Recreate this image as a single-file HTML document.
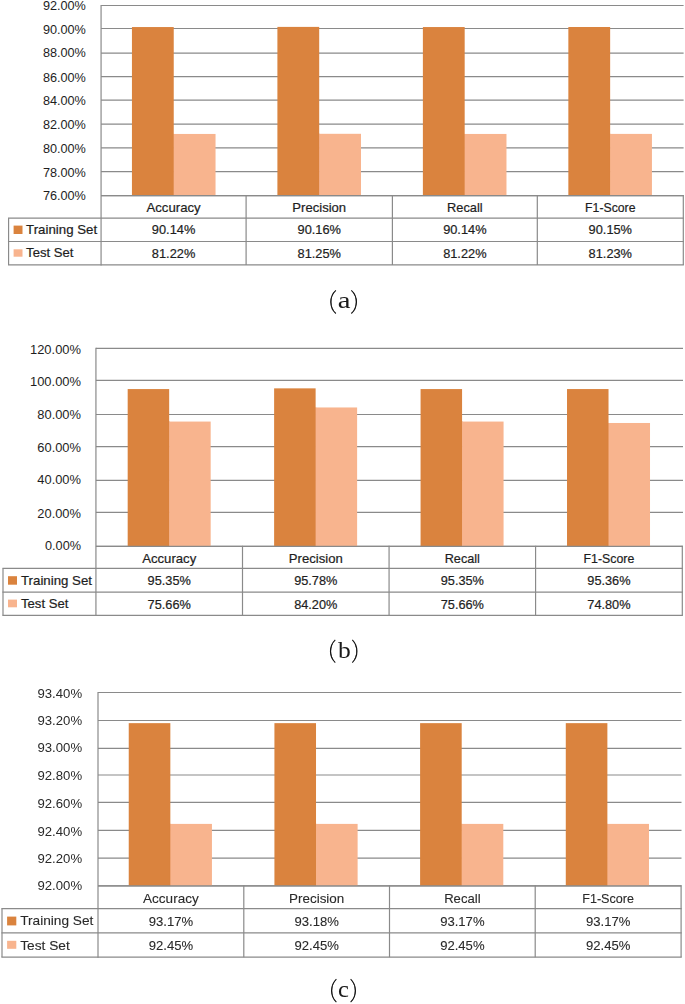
<!DOCTYPE html>
<html><head><meta charset="utf-8"><style>
html,body{margin:0;padding:0;background:#fff;width:685px;height:1004px;overflow:hidden}
svg{display:block;font-family:"Liberation Sans", sans-serif}
.gs{filter:grayscale(1)}
</style></head><body>
<svg width="685" height="1004" viewBox="0 0 685 1004">
<line x1="101.07" y1="5.50" x2="683.60" y2="5.50" stroke="#8a8a8a" stroke-width="1.2"/>
<line x1="101.07" y1="28.50" x2="683.60" y2="28.50" stroke="#8a8a8a" stroke-width="1.2"/>
<line x1="101.07" y1="53.10" x2="683.60" y2="53.10" stroke="#8a8a8a" stroke-width="1.2"/>
<line x1="101.07" y1="76.65" x2="683.60" y2="76.65" stroke="#8a8a8a" stroke-width="1.2"/>
<line x1="101.07" y1="100.10" x2="683.60" y2="100.10" stroke="#8a8a8a" stroke-width="1.2"/>
<line x1="101.07" y1="124.10" x2="683.60" y2="124.10" stroke="#8a8a8a" stroke-width="1.2"/>
<line x1="101.07" y1="147.90" x2="683.60" y2="147.90" stroke="#8a8a8a" stroke-width="1.2"/>
<line x1="101.07" y1="171.60" x2="683.60" y2="171.60" stroke="#8a8a8a" stroke-width="1.2"/>
<line x1="101.07" y1="195.70" x2="683.60" y2="195.70" stroke="#8a8a8a" stroke-width="1.2"/>
<rect x="131.94" y="27.05" width="41.80" height="168.65" fill="#DA833E"/>
<rect x="173.14" y="133.95" width="1.2" height="61.75" fill="#DA833E"/>
<rect x="173.74" y="133.95" width="41.80" height="61.75" fill="#F8B48E"/>
<rect x="277.40" y="26.90" width="41.80" height="168.80" fill="#DA833E"/>
<rect x="318.60" y="133.80" width="1.2" height="61.90" fill="#DA833E"/>
<rect x="319.20" y="133.80" width="41.80" height="61.90" fill="#F8B48E"/>
<rect x="422.88" y="27.05" width="41.80" height="168.65" fill="#DA833E"/>
<rect x="464.07" y="133.95" width="1.2" height="61.75" fill="#DA833E"/>
<rect x="464.68" y="133.95" width="41.80" height="61.75" fill="#F8B48E"/>
<rect x="568.35" y="27.00" width="41.80" height="168.70" fill="#DA833E"/>
<rect x="609.54" y="133.90" width="1.2" height="61.80" fill="#DA833E"/>
<rect x="610.14" y="133.90" width="41.80" height="61.80" fill="#F8B48E"/>
<line x1="101.07" y1="195.70" x2="683.30" y2="195.70" stroke="#8a8a8a" stroke-width="1.2"/>
<line x1="101.07" y1="4.90" x2="101.07" y2="265.55" stroke="#8a8a8a" stroke-width="1.2"/>
<line x1="7.97" y1="218.20" x2="683.90" y2="218.20" stroke="#8a8a8a" stroke-width="1.2"/>
<line x1="7.97" y1="241.50" x2="683.90" y2="241.50" stroke="#8a8a8a" stroke-width="1.2"/>
<line x1="7.97" y1="264.95" x2="683.90" y2="264.95" stroke="#8a8a8a" stroke-width="1.2"/>
<line x1="8.57" y1="218.20" x2="8.57" y2="264.95" stroke="#8a8a8a" stroke-width="1.2"/>
<line x1="246.10" y1="195.10" x2="246.10" y2="264.95" stroke="#8a8a8a" stroke-width="1.2"/>
<line x1="392.40" y1="195.10" x2="392.40" y2="264.95" stroke="#8a8a8a" stroke-width="1.2"/>
<line x1="537.30" y1="195.10" x2="537.30" y2="264.95" stroke="#8a8a8a" stroke-width="1.2"/>
<line x1="683.30" y1="195.10" x2="683.30" y2="264.95" stroke="#8a8a8a" stroke-width="1.2"/>
<text x="85.90" y="10.10" font-size="12.2" fill="#1e1e1e" stroke="#1e1e1e" stroke-width="0" text-anchor="end" textLength="43.00" lengthAdjust="spacingAndGlyphs">92.00%</text>
<text x="85.90" y="33.70" font-size="12.2" fill="#1e1e1e" stroke="#1e1e1e" stroke-width="0" text-anchor="end" textLength="43.00" lengthAdjust="spacingAndGlyphs">90.00%</text>
<text x="85.90" y="56.60" font-size="12.2" fill="#1e1e1e" stroke="#1e1e1e" stroke-width="0" text-anchor="end" textLength="43.00" lengthAdjust="spacingAndGlyphs">88.00%</text>
<text x="85.90" y="82.00" font-size="12.2" fill="#1e1e1e" stroke="#1e1e1e" stroke-width="0" text-anchor="end" textLength="43.00" lengthAdjust="spacingAndGlyphs">86.00%</text>
<text x="85.90" y="105.00" font-size="12.2" fill="#1e1e1e" stroke="#1e1e1e" stroke-width="0" text-anchor="end" textLength="43.00" lengthAdjust="spacingAndGlyphs">84.00%</text>
<text x="85.90" y="128.80" font-size="12.2" fill="#1e1e1e" stroke="#1e1e1e" stroke-width="0" text-anchor="end" textLength="43.00" lengthAdjust="spacingAndGlyphs">82.00%</text>
<text x="85.90" y="152.90" font-size="12.2" fill="#1e1e1e" stroke="#1e1e1e" stroke-width="0" text-anchor="end" textLength="43.00" lengthAdjust="spacingAndGlyphs">80.00%</text>
<text x="85.90" y="176.80" font-size="12.2" fill="#1e1e1e" stroke="#1e1e1e" stroke-width="0" text-anchor="end" textLength="43.00" lengthAdjust="spacingAndGlyphs">78.00%</text>
<text x="85.90" y="200.30" font-size="12.2" fill="#1e1e1e" stroke="#1e1e1e" stroke-width="0" text-anchor="end" textLength="43.00" lengthAdjust="spacingAndGlyphs">76.00%</text>
<text x="173.58" y="211.90" font-size="12.2" fill="#1e1e1e" stroke="#1e1e1e" stroke-width="0.2" text-anchor="middle" textLength="54.20" lengthAdjust="spacingAndGlyphs">Accuracy</text>
<text x="173.58" y="234.30" font-size="12.2" fill="#1e1e1e" stroke="#1e1e1e" stroke-width="0.2" text-anchor="middle" textLength="43.40" lengthAdjust="spacingAndGlyphs">90.14%</text>
<text x="173.58" y="257.50" font-size="12.2" fill="#1e1e1e" stroke="#1e1e1e" stroke-width="0.2" text-anchor="middle" textLength="43.40" lengthAdjust="spacingAndGlyphs">81.22%</text>
<text x="319.25" y="211.90" font-size="12.2" fill="#1e1e1e" stroke="#1e1e1e" stroke-width="0.2" text-anchor="middle" textLength="53.80" lengthAdjust="spacingAndGlyphs">Precision</text>
<text x="319.25" y="234.30" font-size="12.2" fill="#1e1e1e" stroke="#1e1e1e" stroke-width="0.2" text-anchor="middle" textLength="43.40" lengthAdjust="spacingAndGlyphs">90.16%</text>
<text x="319.25" y="257.50" font-size="12.2" fill="#1e1e1e" stroke="#1e1e1e" stroke-width="0.2" text-anchor="middle" textLength="43.40" lengthAdjust="spacingAndGlyphs">81.25%</text>
<text x="464.85" y="211.90" font-size="12.2" fill="#1e1e1e" stroke="#1e1e1e" stroke-width="0.2" text-anchor="middle" textLength="35.60" lengthAdjust="spacingAndGlyphs">Recall</text>
<text x="464.85" y="234.30" font-size="12.2" fill="#1e1e1e" stroke="#1e1e1e" stroke-width="0.2" text-anchor="middle" textLength="43.40" lengthAdjust="spacingAndGlyphs">90.14%</text>
<text x="464.85" y="257.50" font-size="12.2" fill="#1e1e1e" stroke="#1e1e1e" stroke-width="0.2" text-anchor="middle" textLength="43.40" lengthAdjust="spacingAndGlyphs">81.22%</text>
<text x="610.30" y="211.90" font-size="12.2" fill="#1e1e1e" stroke="#1e1e1e" stroke-width="0.2" text-anchor="middle" textLength="50.40" lengthAdjust="spacingAndGlyphs">F1-Score</text>
<text x="610.30" y="234.30" font-size="12.2" fill="#1e1e1e" stroke="#1e1e1e" stroke-width="0.2" text-anchor="middle" textLength="43.40" lengthAdjust="spacingAndGlyphs">90.15%</text>
<text x="610.30" y="257.50" font-size="12.2" fill="#1e1e1e" stroke="#1e1e1e" stroke-width="0.2" text-anchor="middle" textLength="43.40" lengthAdjust="spacingAndGlyphs">81.23%</text>
<rect x="13.60" y="225.60" width="8.90" height="8.40" fill="#DA833E"/>
<rect x="13.60" y="249.30" width="8.90" height="7.40" fill="#F8B48E"/>
<text x="26.10" y="234.00" font-size="12.2" fill="#1e1e1e" stroke="#1e1e1e" stroke-width="0.2" text-anchor="start" textLength="71.00" lengthAdjust="spacingAndGlyphs">Training Set</text>
<text x="26.10" y="257.30" font-size="12.2" fill="#1e1e1e" stroke="#1e1e1e" stroke-width="0.2" text-anchor="start" textLength="47.30" lengthAdjust="spacingAndGlyphs">Test Set</text>
<path d="M335.88,290.30 A15.64,15.64 0 0 0 335.88,313.50" fill="none" stroke="#111" stroke-width="1.05"/><path d="M335.88,290.30 A15.64,15.64 0 0 0 335.88,313.50 A17.34,17.34 0 0 1 335.88,290.30 Z" fill="#111"/>
<path d="M351.32,290.30 A15.64,15.64 0 0 1 351.32,313.50" fill="none" stroke="#111" stroke-width="1.05"/><path d="M351.32,290.30 A15.64,15.64 0 0 1 351.32,313.50 A17.34,17.34 0 0 0 351.32,290.30 Z" fill="#111"/>
<text transform="translate(337.69,307.80) scale(1.28,1)" font-size="22.5" class="gs" fill="#1a1a1a" font-family='"Liberation Serif", serif'>a</text>
<line x1="95.93" y1="348.40" x2="683.00" y2="348.40" stroke="#8a8a8a" stroke-width="1.2"/>
<line x1="95.93" y1="380.40" x2="683.00" y2="380.40" stroke="#8a8a8a" stroke-width="1.2"/>
<line x1="95.93" y1="414.50" x2="683.00" y2="414.50" stroke="#8a8a8a" stroke-width="1.2"/>
<line x1="95.93" y1="446.60" x2="683.00" y2="446.60" stroke="#8a8a8a" stroke-width="1.2"/>
<line x1="95.93" y1="480.30" x2="683.00" y2="480.30" stroke="#8a8a8a" stroke-width="1.2"/>
<line x1="95.93" y1="512.30" x2="683.00" y2="512.30" stroke="#8a8a8a" stroke-width="1.2"/>
<line x1="95.93" y1="546.40" x2="683.00" y2="546.40" stroke="#8a8a8a" stroke-width="1.2"/>
<rect x="127.68" y="389.07" width="41.50" height="157.33" fill="#DA833E"/>
<rect x="168.58" y="421.56" width="1.2" height="124.84" fill="#DA833E"/>
<rect x="169.18" y="421.56" width="41.50" height="124.84" fill="#F8B48E"/>
<rect x="274.12" y="388.36" width="41.50" height="158.04" fill="#DA833E"/>
<rect x="315.02" y="407.47" width="1.2" height="138.93" fill="#DA833E"/>
<rect x="315.62" y="407.47" width="41.50" height="138.93" fill="#F8B48E"/>
<rect x="420.57" y="389.07" width="41.50" height="157.33" fill="#DA833E"/>
<rect x="461.47" y="421.56" width="1.2" height="124.84" fill="#DA833E"/>
<rect x="462.07" y="421.56" width="41.50" height="124.84" fill="#F8B48E"/>
<rect x="567.02" y="389.06" width="41.50" height="157.34" fill="#DA833E"/>
<rect x="607.92" y="422.98" width="1.2" height="123.42" fill="#DA833E"/>
<rect x="608.52" y="422.98" width="41.50" height="123.42" fill="#F8B48E"/>
<line x1="95.93" y1="546.40" x2="682.30" y2="546.40" stroke="#8a8a8a" stroke-width="1.2"/>
<line x1="95.93" y1="347.80" x2="95.93" y2="616.00" stroke="#8a8a8a" stroke-width="1.2"/>
<line x1="2.40" y1="568.45" x2="682.90" y2="568.45" stroke="#8a8a8a" stroke-width="1.2"/>
<line x1="2.40" y1="592.20" x2="682.90" y2="592.20" stroke="#8a8a8a" stroke-width="1.2"/>
<line x1="2.40" y1="615.40" x2="682.90" y2="615.40" stroke="#8a8a8a" stroke-width="1.2"/>
<line x1="3.00" y1="568.45" x2="3.00" y2="615.40" stroke="#8a8a8a" stroke-width="1.2"/>
<line x1="242.50" y1="545.80" x2="242.50" y2="615.40" stroke="#8a8a8a" stroke-width="1.2"/>
<line x1="389.07" y1="545.80" x2="389.07" y2="615.40" stroke="#8a8a8a" stroke-width="1.2"/>
<line x1="535.57" y1="545.80" x2="535.57" y2="615.40" stroke="#8a8a8a" stroke-width="1.2"/>
<line x1="682.30" y1="545.80" x2="682.30" y2="615.40" stroke="#8a8a8a" stroke-width="1.2"/>
<text x="81.00" y="353.60" font-size="12.2" fill="#1e1e1e" stroke="#1e1e1e" stroke-width="0" text-anchor="end" textLength="51.00" lengthAdjust="spacingAndGlyphs">120.00%</text>
<text x="81.00" y="385.80" font-size="12.2" fill="#1e1e1e" stroke="#1e1e1e" stroke-width="0" text-anchor="end" textLength="51.00" lengthAdjust="spacingAndGlyphs">100.00%</text>
<text x="81.00" y="419.20" font-size="12.2" fill="#1e1e1e" stroke="#1e1e1e" stroke-width="0" text-anchor="end" textLength="43.70" lengthAdjust="spacingAndGlyphs">80.00%</text>
<text x="81.00" y="451.60" font-size="12.2" fill="#1e1e1e" stroke="#1e1e1e" stroke-width="0" text-anchor="end" textLength="43.70" lengthAdjust="spacingAndGlyphs">60.00%</text>
<text x="81.00" y="484.20" font-size="12.2" fill="#1e1e1e" stroke="#1e1e1e" stroke-width="0" text-anchor="end" textLength="43.70" lengthAdjust="spacingAndGlyphs">40.00%</text>
<text x="81.00" y="518.20" font-size="12.2" fill="#1e1e1e" stroke="#1e1e1e" stroke-width="0" text-anchor="end" textLength="43.70" lengthAdjust="spacingAndGlyphs">20.00%</text>
<text x="81.00" y="550.30" font-size="12.2" fill="#1e1e1e" stroke="#1e1e1e" stroke-width="0" text-anchor="end" textLength="36.00" lengthAdjust="spacingAndGlyphs">0.00%</text>
<text x="169.22" y="562.80" font-size="12.2" fill="#1e1e1e" stroke="#1e1e1e" stroke-width="0.2" text-anchor="middle" textLength="54.10" lengthAdjust="spacingAndGlyphs">Accuracy</text>
<text x="169.22" y="585.00" font-size="12.2" fill="#1e1e1e" stroke="#1e1e1e" stroke-width="0.2" text-anchor="middle" textLength="43.20" lengthAdjust="spacingAndGlyphs">95.35%</text>
<text x="169.22" y="608.60" font-size="12.2" fill="#1e1e1e" stroke="#1e1e1e" stroke-width="0.2" text-anchor="middle" textLength="43.20" lengthAdjust="spacingAndGlyphs">75.66%</text>
<text x="315.78" y="562.80" font-size="12.2" fill="#1e1e1e" stroke="#1e1e1e" stroke-width="0.2" text-anchor="middle" textLength="53.90" lengthAdjust="spacingAndGlyphs">Precision</text>
<text x="315.78" y="585.00" font-size="12.2" fill="#1e1e1e" stroke="#1e1e1e" stroke-width="0.2" text-anchor="middle" textLength="43.20" lengthAdjust="spacingAndGlyphs">95.78%</text>
<text x="315.78" y="608.60" font-size="12.2" fill="#1e1e1e" stroke="#1e1e1e" stroke-width="0.2" text-anchor="middle" textLength="43.20" lengthAdjust="spacingAndGlyphs">84.20%</text>
<text x="462.32" y="562.80" font-size="12.2" fill="#1e1e1e" stroke="#1e1e1e" stroke-width="0.2" text-anchor="middle" textLength="35.20" lengthAdjust="spacingAndGlyphs">Recall</text>
<text x="462.32" y="585.00" font-size="12.2" fill="#1e1e1e" stroke="#1e1e1e" stroke-width="0.2" text-anchor="middle" textLength="43.20" lengthAdjust="spacingAndGlyphs">95.35%</text>
<text x="462.32" y="608.60" font-size="12.2" fill="#1e1e1e" stroke="#1e1e1e" stroke-width="0.2" text-anchor="middle" textLength="43.20" lengthAdjust="spacingAndGlyphs">75.66%</text>
<text x="608.93" y="562.80" font-size="12.2" fill="#1e1e1e" stroke="#1e1e1e" stroke-width="0.2" text-anchor="middle" textLength="50.80" lengthAdjust="spacingAndGlyphs">F1-Score</text>
<text x="608.93" y="585.00" font-size="12.2" fill="#1e1e1e" stroke="#1e1e1e" stroke-width="0.2" text-anchor="middle" textLength="43.20" lengthAdjust="spacingAndGlyphs">95.36%</text>
<text x="608.93" y="608.60" font-size="12.2" fill="#1e1e1e" stroke="#1e1e1e" stroke-width="0.2" text-anchor="middle" textLength="43.20" lengthAdjust="spacingAndGlyphs">74.80%</text>
<rect x="8.00" y="576.20" width="9.00" height="8.50" fill="#DA833E"/>
<rect x="8.00" y="599.60" width="9.00" height="7.70" fill="#F8B48E"/>
<text x="21.00" y="584.70" font-size="12.2" fill="#1e1e1e" stroke="#1e1e1e" stroke-width="0.2" text-anchor="start" textLength="71.00" lengthAdjust="spacingAndGlyphs">Training Set</text>
<text x="21.00" y="608.00" font-size="12.2" fill="#1e1e1e" stroke="#1e1e1e" stroke-width="0.2" text-anchor="start" textLength="47.40" lengthAdjust="spacingAndGlyphs">Test Set</text>
<path d="M335.28,639.90 A15.71,15.71 0 0 0 335.28,662.60" fill="none" stroke="#111" stroke-width="1.05"/><path d="M335.28,639.90 A15.71,15.71 0 0 0 335.28,662.60 A17.60,17.60 0 0 1 335.28,639.90 Z" fill="#111"/>
<path d="M352.32,639.90 A16.18,16.18 0 0 1 352.32,662.60" fill="none" stroke="#111" stroke-width="1.05"/><path d="M352.32,639.90 A16.18,16.18 0 0 1 352.32,662.60 A18.28,18.28 0 0 0 352.32,639.90 Z" fill="#111"/>
<text transform="translate(337.90,657.80) scale(1.07,1)" font-size="23.9" class="gs" fill="#1a1a1a" font-family='"Liberation Serif", serif'>b</text>
<line x1="98.00" y1="692.50" x2="681.50" y2="692.50" stroke="#8a8a8a" stroke-width="1.2"/>
<line x1="98.00" y1="720.50" x2="681.50" y2="720.50" stroke="#8a8a8a" stroke-width="1.2"/>
<line x1="98.00" y1="748.30" x2="681.50" y2="748.30" stroke="#8a8a8a" stroke-width="1.2"/>
<line x1="98.00" y1="775.00" x2="681.50" y2="775.00" stroke="#8a8a8a" stroke-width="1.2"/>
<line x1="98.00" y1="802.40" x2="681.50" y2="802.40" stroke="#8a8a8a" stroke-width="1.2"/>
<line x1="98.00" y1="830.30" x2="681.50" y2="830.30" stroke="#8a8a8a" stroke-width="1.2"/>
<line x1="98.00" y1="858.20" x2="681.50" y2="858.20" stroke="#8a8a8a" stroke-width="1.2"/>
<line x1="98.00" y1="885.90" x2="681.50" y2="885.90" stroke="#8a8a8a" stroke-width="1.2"/>
<rect x="128.74" y="723.15" width="41.60" height="162.75" fill="#DA833E"/>
<rect x="169.74" y="823.90" width="1.2" height="62.00" fill="#DA833E"/>
<rect x="170.34" y="823.90" width="41.60" height="62.00" fill="#F8B48E"/>
<rect x="274.42" y="723.15" width="41.60" height="162.75" fill="#DA833E"/>
<rect x="315.42" y="823.90" width="1.2" height="62.00" fill="#DA833E"/>
<rect x="316.02" y="823.90" width="41.60" height="62.00" fill="#F8B48E"/>
<rect x="420.10" y="723.15" width="41.60" height="162.75" fill="#DA833E"/>
<rect x="461.10" y="823.90" width="1.2" height="62.00" fill="#DA833E"/>
<rect x="461.70" y="823.90" width="41.60" height="62.00" fill="#F8B48E"/>
<rect x="565.78" y="723.15" width="41.60" height="162.75" fill="#DA833E"/>
<rect x="606.78" y="823.90" width="1.2" height="62.00" fill="#DA833E"/>
<rect x="607.38" y="823.90" width="41.60" height="62.00" fill="#F8B48E"/>
<line x1="98.00" y1="885.90" x2="681.10" y2="885.90" stroke="#8a8a8a" stroke-width="1.2"/>
<line x1="98.00" y1="691.90" x2="98.00" y2="957.80" stroke="#8a8a8a" stroke-width="1.2"/>
<line x1="1.40" y1="908.60" x2="681.70" y2="908.60" stroke="#8a8a8a" stroke-width="1.2"/>
<line x1="1.40" y1="932.90" x2="681.70" y2="932.90" stroke="#8a8a8a" stroke-width="1.2"/>
<line x1="1.40" y1="957.20" x2="681.70" y2="957.20" stroke="#8a8a8a" stroke-width="1.2"/>
<line x1="2.00" y1="908.60" x2="2.00" y2="957.20" stroke="#8a8a8a" stroke-width="1.2"/>
<line x1="243.80" y1="885.30" x2="243.80" y2="957.20" stroke="#8a8a8a" stroke-width="1.2"/>
<line x1="389.50" y1="885.30" x2="389.50" y2="957.20" stroke="#8a8a8a" stroke-width="1.2"/>
<line x1="535.20" y1="885.30" x2="535.20" y2="957.20" stroke="#8a8a8a" stroke-width="1.2"/>
<line x1="681.10" y1="885.30" x2="681.10" y2="957.20" stroke="#8a8a8a" stroke-width="1.2"/>
<g class="gs">
<text x="82.10" y="697.90" font-size="12.6" fill="#2a2a2a" stroke="#2a2a2a" stroke-width="0" text-anchor="end" textLength="44.60" lengthAdjust="spacingAndGlyphs">93.40%</text>
<text x="82.10" y="724.50" font-size="12.6" fill="#2a2a2a" stroke="#2a2a2a" stroke-width="0" text-anchor="end" textLength="44.60" lengthAdjust="spacingAndGlyphs">93.20%</text>
<text x="82.10" y="752.00" font-size="12.6" fill="#2a2a2a" stroke="#2a2a2a" stroke-width="0" text-anchor="end" textLength="44.60" lengthAdjust="spacingAndGlyphs">93.00%</text>
<text x="82.10" y="779.80" font-size="12.6" fill="#2a2a2a" stroke="#2a2a2a" stroke-width="0" text-anchor="end" textLength="44.60" lengthAdjust="spacingAndGlyphs">92.80%</text>
<text x="82.10" y="807.80" font-size="12.6" fill="#2a2a2a" stroke="#2a2a2a" stroke-width="0" text-anchor="end" textLength="44.60" lengthAdjust="spacingAndGlyphs">92.60%</text>
<text x="82.10" y="835.60" font-size="12.6" fill="#2a2a2a" stroke="#2a2a2a" stroke-width="0" text-anchor="end" textLength="44.60" lengthAdjust="spacingAndGlyphs">92.40%</text>
<text x="82.10" y="863.00" font-size="12.6" fill="#2a2a2a" stroke="#2a2a2a" stroke-width="0" text-anchor="end" textLength="44.60" lengthAdjust="spacingAndGlyphs">92.20%</text>
<text x="82.10" y="889.90" font-size="12.6" fill="#2a2a2a" stroke="#2a2a2a" stroke-width="0" text-anchor="end" textLength="44.60" lengthAdjust="spacingAndGlyphs">92.00%</text>
<text x="170.90" y="902.50" font-size="12.6" fill="#2a2a2a" stroke="#2a2a2a" stroke-width="0.1" text-anchor="middle" textLength="55.70" lengthAdjust="spacingAndGlyphs">Accuracy</text>
<text x="170.90" y="925.90" font-size="12.6" fill="#2a2a2a" stroke="#2a2a2a" stroke-width="0.1" text-anchor="middle" textLength="44.40" lengthAdjust="spacingAndGlyphs">93.17%</text>
<text x="170.90" y="949.80" font-size="12.6" fill="#2a2a2a" stroke="#2a2a2a" stroke-width="0.1" text-anchor="middle" textLength="44.40" lengthAdjust="spacingAndGlyphs">92.45%</text>
<text x="316.65" y="902.50" font-size="12.6" fill="#2a2a2a" stroke="#2a2a2a" stroke-width="0.1" text-anchor="middle" textLength="55.30" lengthAdjust="spacingAndGlyphs">Precision</text>
<text x="316.65" y="925.90" font-size="12.6" fill="#2a2a2a" stroke="#2a2a2a" stroke-width="0.1" text-anchor="middle" textLength="44.40" lengthAdjust="spacingAndGlyphs">93.18%</text>
<text x="316.65" y="949.80" font-size="12.6" fill="#2a2a2a" stroke="#2a2a2a" stroke-width="0.1" text-anchor="middle" textLength="44.40" lengthAdjust="spacingAndGlyphs">92.45%</text>
<text x="462.35" y="902.50" font-size="12.6" fill="#2a2a2a" stroke="#2a2a2a" stroke-width="0.1" text-anchor="middle" textLength="36.40" lengthAdjust="spacingAndGlyphs">Recall</text>
<text x="462.35" y="925.90" font-size="12.6" fill="#2a2a2a" stroke="#2a2a2a" stroke-width="0.1" text-anchor="middle" textLength="44.40" lengthAdjust="spacingAndGlyphs">93.17%</text>
<text x="462.35" y="949.80" font-size="12.6" fill="#2a2a2a" stroke="#2a2a2a" stroke-width="0.1" text-anchor="middle" textLength="44.40" lengthAdjust="spacingAndGlyphs">92.45%</text>
<text x="608.15" y="902.50" font-size="12.6" fill="#2a2a2a" stroke="#2a2a2a" stroke-width="0.1" text-anchor="middle" textLength="51.90" lengthAdjust="spacingAndGlyphs">F1-Score</text>
<text x="608.15" y="925.90" font-size="12.6" fill="#2a2a2a" stroke="#2a2a2a" stroke-width="0.1" text-anchor="middle" textLength="44.40" lengthAdjust="spacingAndGlyphs">93.17%</text>
<text x="608.15" y="949.80" font-size="12.6" fill="#2a2a2a" stroke="#2a2a2a" stroke-width="0.1" text-anchor="middle" textLength="44.40" lengthAdjust="spacingAndGlyphs">92.45%</text>
</g>
<rect x="7.10" y="916.60" width="9.20" height="8.80" fill="#DA833E"/>
<rect x="7.10" y="940.80" width="9.20" height="8.00" fill="#F8B48E"/>
<g class="gs">
<text x="20.20" y="925.40" font-size="12.6" fill="#2a2a2a" stroke="#2a2a2a" stroke-width="0.1" text-anchor="start" textLength="73.20" lengthAdjust="spacingAndGlyphs">Training Set</text>
<text x="20.20" y="949.50" font-size="12.6" fill="#2a2a2a" stroke="#2a2a2a" stroke-width="0.1" text-anchor="start" textLength="49.60" lengthAdjust="spacingAndGlyphs">Test Set</text>
</g>
<path d="M336.38,979.20 A16.06,16.06 0 0 0 336.38,1002.20" fill="none" stroke="#111" stroke-width="1.05"/><path d="M336.38,979.20 A16.06,16.06 0 0 0 336.38,1002.20 A18.01,18.01 0 0 1 336.38,979.20 Z" fill="#111"/>
<path d="M350.62,979.20 A16.06,16.06 0 0 1 350.62,1002.20" fill="none" stroke="#111" stroke-width="1.05"/><path d="M350.62,979.20 A16.06,16.06 0 0 1 350.62,1002.20 A18.01,18.01 0 0 0 350.62,979.20 Z" fill="#111"/>
<text transform="translate(338.07,997.10) scale(1.06,1)" font-size="23.1" class="gs" fill="#1a1a1a" font-family='"Liberation Serif", serif'>c</text>
</svg>
</body></html>
